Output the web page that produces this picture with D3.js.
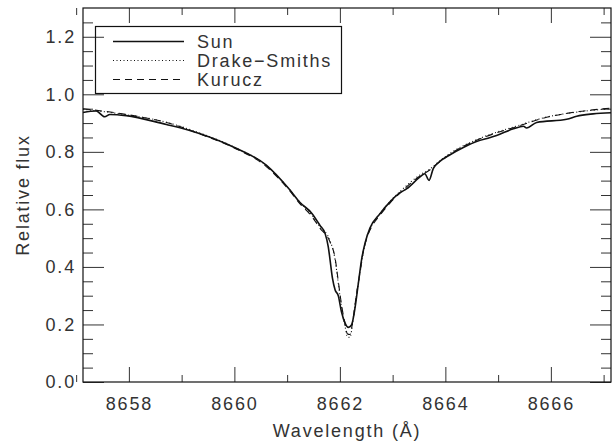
<!DOCTYPE html>
<html>
<head>
<meta charset="utf-8">
<script src="https://cdn.jsdelivr.net/npm/d3@7"></script>
<style>
  body { margin: 0; background: #fff; }
  svg text { font-family: "Liberation Sans", Arial, sans-serif; fill: #333; }
</style>
</head>
<body>
<svg id="chart" width="615" height="444"></svg>
<script>
// 太陽スペクトル (観測)
const sunWave = [8657.13, 8657.38, 8657.54, 8657.64, 8657.95, 8658.71, 8658.97, 8659.35, 8659.98, 8660.61,
  8661.05, 8661.24, 8661.47, 8661.62, 8661.72, 8661.78, 8661.81, 8661.86, 8661.91, 8661.97,
  8662.03, 8662.10, 8662.16, 8662.22, 8662.29, 8662.35, 8662.41, 8662.48, 8662.57, 8662.76,
  8662.95, 8663.14, 8663.27, 8663.52, 8663.61, 8663.69, 8663.77, 8663.87, 8664.09, 8664.34,
  8664.59, 8664.85, 8664.97, 8665.29, 8665.48, 8665.54, 8665.73, 8666.30, 8666.49, 8666.80, 8667.14];
const sunFlux = [0.937, 0.942, 0.922, 0.930, 0.926, 0.895, 0.884, 0.863, 0.817, 0.753,
  0.668, 0.625, 0.586, 0.545, 0.516, 0.470, 0.430, 0.360, 0.320, 0.300,
  0.244, 0.204, 0.190, 0.198, 0.261, 0.343, 0.424, 0.485, 0.535, 0.585,
  0.626, 0.658, 0.672, 0.713, 0.724, 0.701, 0.742, 0.763, 0.790, 0.815,
  0.836, 0.850, 0.857, 0.880, 0.889, 0.883, 0.902, 0.913, 0.924, 0.932, 0.936];

// モデル (Drake-Smiths, Kurucz)
const modelWave = [8657.13, 8657.95, 8658.71, 8659.35, 8659.98, 8660.61, 8661.05, 8661.24, 8661.47, 8661.62,
  8661.81, 8661.91, 8661.97, 8662.03, 8662.10, 8662.14, 8662.19, 8662.25, 8662.31, 8662.38,
  8662.44, 8662.52, 8662.62, 8662.76, 8662.95, 8663.14, 8663.52, 8663.69, 8663.87, 8664.09,
  8664.59, 8665.00, 8665.29, 8665.92, 8666.53, 8667.14];
const drakeFlux = [0.948, 0.929, 0.903, 0.865, 0.818, 0.752, 0.668, 0.625, 0.580, 0.540,
  0.493, 0.424, 0.343, 0.261, 0.192, 0.157, 0.155, 0.215, 0.296, 0.377,
  0.447, 0.510, 0.550, 0.585, 0.628, 0.662, 0.720, 0.738, 0.765, 0.795,
  0.842, 0.870, 0.886, 0.921, 0.939, 0.950];
const kuruczFlux = [0.950, 0.930, 0.902, 0.862, 0.815, 0.748, 0.664, 0.620, 0.575, 0.535,
  0.488, 0.430, 0.350, 0.270, 0.200, 0.168, 0.165, 0.220, 0.300, 0.380,
  0.450, 0.505, 0.545, 0.580, 0.622, 0.657, 0.716, 0.735, 0.762, 0.792,
  0.840, 0.868, 0.884, 0.920, 0.940, 0.952];

const xMajor = [8658, 8660, 8662, 8664, 8666];
const xMinor = [8657, 8659, 8661, 8663, 8665, 8667];
const yMajor = [0.0, 0.2, 0.4, 0.6, 0.8, 1.0, 1.2];
const yMinor = [0.05, 0.1, 0.15, 0.25, 0.3, 0.35, 0.45, 0.5, 0.55, 0.65, 0.7, 0.75,
  0.85, 0.9, 0.95, 1.05, 1.1, 1.15, 1.25];

const series = [
  { name: "Sun", wave: sunWave, flux: sunFlux, dash: null, width: 1.6 },
  { name: "Drake−Smiths", wave: modelWave, flux: drakeFlux, dash: "1,2.5", width: 1.1 },
  { name: "Kurucz", wave: modelWave, flux: kuruczFlux, dash: "7,5", width: 1.1 }
];

const svg = d3.select("#chart");
const margin = { top: 8, right: 4, bottom: 62, left: 83 };
const w = 615 - margin.left - margin.right;
const h = 444 - margin.top - margin.bottom;
const g = svg.append("g").attr("transform", `translate(${margin.left},${margin.top})`);

const x = d3.scaleLinear().domain([8657.13, 8667.14]).range([0, w]);
const y = d3.scaleLinear().domain([0, 1.3]).range([h, 0]);

// 軸 (目盛りは内向き)
function styleAxis(sel) {
  sel.select(".domain").remove();
  sel.selectAll(".tick line").attr("stroke", "#333").attr("stroke-width", 1);
  sel.selectAll("text").style("font-size", "18px").style("letter-spacing", "1.8px");
}
g.append("g").attr("transform", `translate(0,${h})`)
  .call(d3.axisBottom(x).tickValues(xMajor).tickSize(-15).tickPadding(15).tickFormat(d3.format("d")))
  .call(styleAxis);
g.append("g").attr("transform", `translate(0,${h})`)
  .call(d3.axisBottom(x).tickValues(xMinor).tickSize(-7).tickFormat(""))
  .call(styleAxis);
g.append("g")
  .call(d3.axisTop(x).tickValues(xMajor).tickSize(-15).tickFormat(""))
  .call(styleAxis);
g.append("g")
  .call(d3.axisTop(x).tickValues(xMinor).tickSize(-7).tickFormat(""))
  .call(styleAxis);
g.append("g")
  .call(d3.axisLeft(y).tickValues(yMajor).tickSize(-21).tickPadding(7).tickFormat(d3.format(".1f")))
  .call(styleAxis);
g.append("g")
  .call(d3.axisLeft(y).tickValues(yMinor).tickSize(-10).tickFormat(""))
  .call(styleAxis);
g.append("g").attr("transform", `translate(${w},0)`)
  .call(d3.axisRight(y).tickValues(yMajor).tickSize(-21).tickFormat(""))
  .call(styleAxis);
g.append("g").attr("transform", `translate(${w},0)`)
  .call(d3.axisRight(y).tickValues(yMinor).tickSize(-10).tickFormat(""))
  .call(styleAxis);

// 枠
g.append("rect").attr("width", w).attr("height", h)
  .attr("fill", "none").attr("stroke", "#111").attr("stroke-width", 1.2);

// スペクトル
const line = d3.line().curve(d3.curveMonotoneX)
  .x(d => x(d[0]))
  .y(d => y(d[1]));

series.slice().reverse().forEach(s => {
  g.append("path")
    .datum(s.wave.map((v, i) => [v, s.flux[i]]))
    .attr("fill", "none")
    .attr("stroke", "#111")
    .attr("stroke-width", s.width)
    .attr("stroke-dasharray", s.dash)
    .attr("d", line);
});

// 凡例
const lg = svg.append("g");
lg.append("rect").attr("x", 95.5).attr("y", 26.5).attr("width", 246).attr("height", 67)
  .attr("fill", "none").attr("stroke", "#111").attr("stroke-width", 1.2);
series.forEach((s, i) => {
  const yy = 41.5 + i * 19;
  lg.append("line").attr("x1", 113).attr("x2", 184).attr("y1", yy).attr("y2", yy)
    .attr("stroke", "#111").attr("stroke-width", s.width).attr("stroke-dasharray", s.dash);
  lg.append("text").attr("x", 197).attr("y", yy).attr("dy", "0.35em")
    .style("font-size", "18px").style("letter-spacing", "1.8px").text(s.name);
});

// ラベル
svg.append("text")
  .attr("x", margin.left + w / 2).attr("y", 437)
  .attr("text-anchor", "middle")
  .style("font-size", "18px").style("letter-spacing", "1.8px")
  .text("Wavelength (Å)");

svg.append("text")
  .attr("transform", "rotate(-90)")
  .attr("x", -195).attr("y", 29)
  .attr("text-anchor", "middle")
  .style("font-size", "18px").style("letter-spacing", "1.8px")
  .text("Relative flux");
</script>
</body>
</html>
